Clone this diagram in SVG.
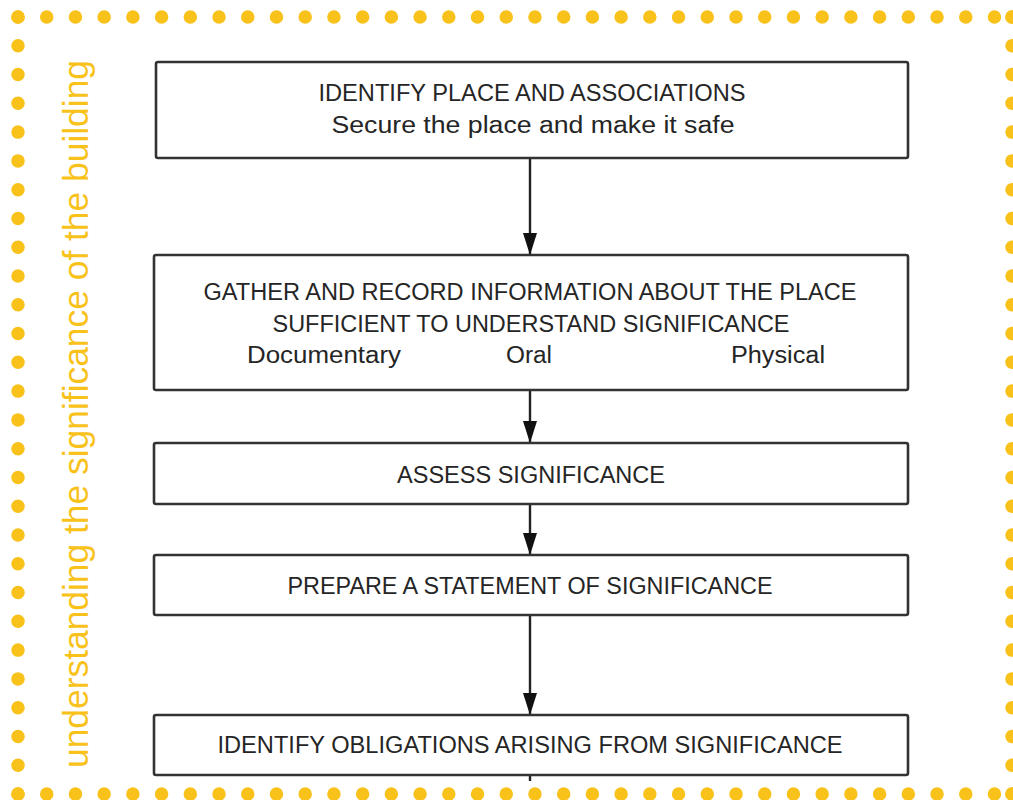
<svg xmlns="http://www.w3.org/2000/svg" width="1013" height="800" viewBox="0 0 1013 800">
<defs>
<style>
.dots{fill:none;stroke:#F8C21B;stroke-width:13.5;stroke-linecap:round}
.box{fill:#fff;stroke:#333;stroke-width:2.6}
.lbl{font-family:"Liberation Sans",Arial,sans-serif;font-size:23px;fill:#252525;text-anchor:middle}
.side{font-family:"Liberation Sans",Arial,sans-serif;font-size:35px;fill:#F8C21B}
.conn{stroke:#222;stroke-width:2.4;fill:none}
</style>
<marker id="arrd" viewBox="0 0 22 14" refX="22" refY="7" markerWidth="22" markerHeight="14" markerUnits="userSpaceOnUse" orient="auto">
<path d="M0,0 L22,7 L0,14 Z" fill="#111"/>
</marker>
</defs>
<rect width="1013" height="800" fill="#fff"/>
<g id="border">
<path class="dots" stroke-dasharray="0 28.72" d="M18,17 H995"/>
<path class="dots" stroke-dasharray="0 28.72" d="M18,794 H995"/>
<path class="dots" stroke-dasharray="0 28.778" d="M18,17 V795"/>
<path class="dots" stroke-dasharray="0 28.778" d="M1012,17 V795"/>
<circle cx="1012" cy="17" r="6.75" fill="#F8C21B"/>
<circle cx="1012" cy="794" r="6.75" fill="#F8C21B"/>
</g>
<g id="side-label">
<text class="side" transform="translate(88,768) rotate(-90)" textLength="708" lengthAdjust="spacingAndGlyphs">understanding the significance of the building</text>
</g>
<g id="connectors">
<line class="conn" x1="530" y1="158" x2="530" y2="255" marker-end="url(#arrd)"/>
<line class="conn" x1="530" y1="390" x2="530" y2="443" marker-end="url(#arrd)"/>
<line class="conn" x1="530" y1="504" x2="530" y2="555" marker-end="url(#arrd)"/>
<line class="conn" x1="530" y1="615" x2="530" y2="715" marker-end="url(#arrd)"/>
<line class="conn" x1="530" y1="775" x2="530" y2="781"/>
</g>
<g id="n1">
<rect class="box" x="156" y="62" width="752" height="96" rx="2"/>
<text class="lbl" x="532" y="101" textLength="427" lengthAdjust="spacingAndGlyphs">IDENTIFY PLACE AND ASSOCIATIONS</text>
<text class="lbl" x="533" y="133" textLength="403" lengthAdjust="spacingAndGlyphs">Secure the place and make it safe</text>
</g>
<g id="n2">
<rect class="box" x="154" y="255" width="754" height="135" rx="2"/>
<text class="lbl" x="530" y="300" textLength="653" lengthAdjust="spacingAndGlyphs">GATHER AND RECORD INFORMATION ABOUT THE PLACE</text>
<text class="lbl" x="531" y="332" textLength="517" lengthAdjust="spacingAndGlyphs">SUFFICIENT TO UNDERSTAND SIGNIFICANCE</text>
<text class="lbl" x="324" y="363" textLength="154" lengthAdjust="spacingAndGlyphs">Documentary</text>
<text class="lbl" x="529" y="363" textLength="46" lengthAdjust="spacingAndGlyphs">Oral</text>
<text class="lbl" x="778" y="363" textLength="94" lengthAdjust="spacingAndGlyphs">Physical</text>
</g>
<g id="n3">
<rect class="box" x="154" y="443" width="754" height="61" rx="2"/>
<text class="lbl" x="531" y="483" textLength="268" lengthAdjust="spacingAndGlyphs">ASSESS SIGNIFICANCE</text>
</g>
<g id="n4">
<rect class="box" x="154" y="555" width="754" height="60" rx="2"/>
<text class="lbl" x="530" y="594" textLength="485" lengthAdjust="spacingAndGlyphs">PREPARE A STATEMENT OF SIGNIFICANCE</text>
</g>
<g id="n5">
<rect class="box" x="154" y="715" width="754" height="60" rx="2"/>
<text class="lbl" x="530" y="753" textLength="625" lengthAdjust="spacingAndGlyphs">IDENTIFY OBLIGATIONS ARISING FROM SIGNIFICANCE</text>
</g>
</svg>
